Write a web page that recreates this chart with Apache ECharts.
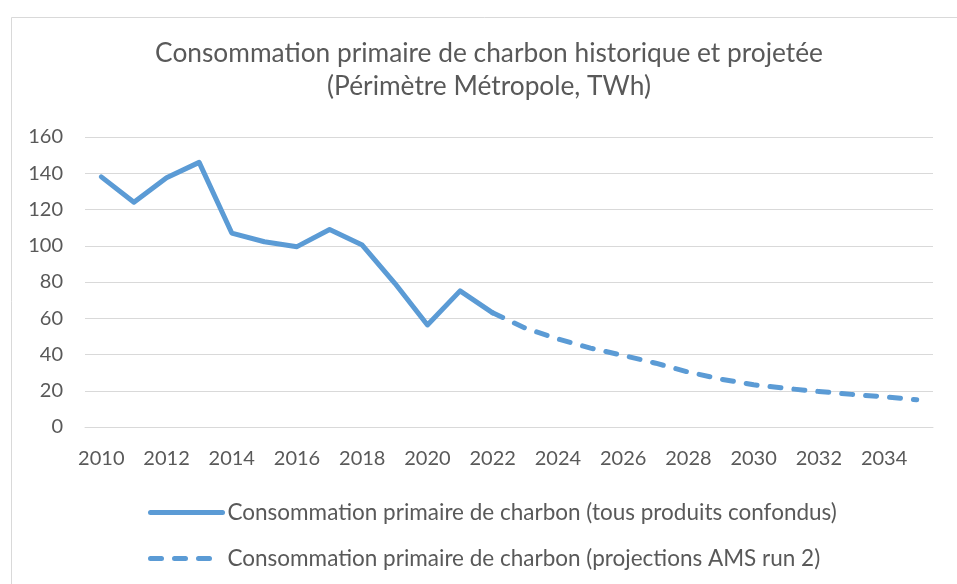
<!DOCTYPE html>
<html><head><meta charset="utf-8">
<script src="https://cdn.jsdelivr.net/npm/echarts@6/dist/echarts.min.js"></script>
<style>html,body{margin:0;padding:0;background:#fff}#c{width:957px;height:584px}</style>
</head><body><div id="c"></div>
<script>
const years = ['2010','2011','2012','2013','2014','2015','2016','2017','2018','2019','2020','2021','2022','2023','2024','2025','2026','2027','2028','2029','2030','2031','2032','2033','2034','2035'];
const historique = [138, 124, 137.5, 146, 107, 102.2, 99.5, 109, 100.4, 79.3, 56.3, 75.1, 63, null, null, null, null, null, null, null, null, null, null, null, null, null];
const projections = [null, null, null, null, null, null, null, null, null, null, null, null, 63, 54.5, 48.6, 43.5, 39.5, 35.2, 30.3, 26.4, 23.3, 21.3, 19.6, 18.0, 16.7, 15.0];
const yTicks = { min: 0, max: 160, interval: 20 };
const seriesNames = ['Consommation primaire de charbon (tous produits confondus)', 'Consommation primaire de charbon (projections AMS run 2)'];
const titleText = 'Consommation primaire de charbon historique et projetée\n(Périmètre Métropole, TWh)';

const FONT = 'Lato';
const GREY = '#595959';
const BLUE = '#5b9bd5';
const chart = echarts.init(document.getElementById('c'), null, { renderer: 'canvas' });
chart.setOption({
  animation: false,
  backgroundColor: '#fff',
  graphic: [{
    type: 'rect', left: 9, top: 15, shape: { width: 1000, height: 1000 },
    style: { fill: 'none', stroke: '#d9d9d9', lineWidth: 1 }, silent: true
  }],
  title: {
    text: titleText, left: 484, top: 32, textAlign: 'center',
    textStyle: { fontFamily: FONT, fontSize: 26.3, fontWeight: 'normal', color: GREY, lineHeight: 33 }
  },
  grid: { left: 85, right: 24, top: 137, bottom: 157, containLabel: false },
  xAxis: {
    type: 'category', data: years, boundaryGap: true,
    axisLine: { show: true, lineStyle: { color: '#d9d9d9', width: 1 } },
    axisTick: { show: false },
    axisLabel: { interval: 1, color: GREY, fontFamily: FONT, fontSize: 20, margin: 22 }
  },
  yAxis: {
    type: 'value', min: yTicks.min, max: yTicks.max, interval: yTicks.interval,
    axisLine: { show: false }, axisTick: { show: false },
    splitLine: { lineStyle: { color: '#d9d9d9', width: 1 } },
    axisLabel: { color: GREY, fontFamily: FONT, fontSize: 20, margin: 22 }
  },
  legend: {
    orient: 'vertical', left: 143, top: 496, itemGap: 23,
    itemWidth: 72, itemHeight: 26,
    itemStyle: { opacity: 0 },
    lineStyle: { width: 5, cap: 'round' },
    textStyle: { fontFamily: FONT, fontSize: 22.5, color: GREY },
    data: [seriesNames[0], seriesNames[1]]
  },
  series: [
    { name: seriesNames[0], type: 'line', data: historique, symbol: 'none', connectNulls: false,
      lineStyle: { color: BLUE, width: 5, cap: 'round', join: 'round' }, itemStyle: { color: BLUE } },
    { name: seriesNames[1], type: 'line', data: projections, symbol: 'none', connectNulls: false,
      lineStyle: { color: BLUE, width: 5, type: [11, 13], cap: 'round', join: 'round' }, itemStyle: { color: BLUE } }
  ]
});
</script></body></html>
